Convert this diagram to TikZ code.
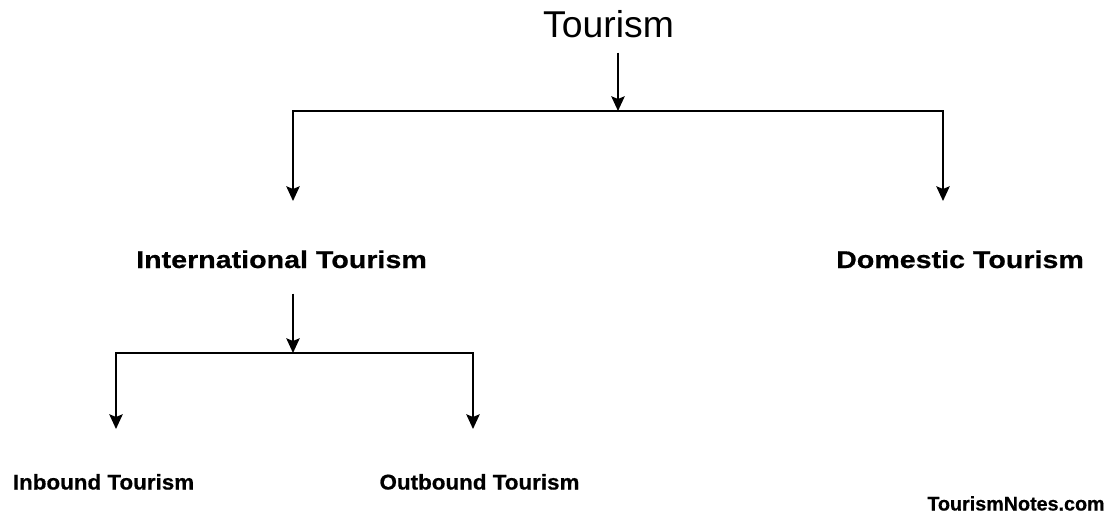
\documentclass[tikz,border=0pt]{standalone}
\usepackage{fontspec}
\usepackage{tikz}
\usepackage{xcolor}
\usetikzlibrary{arrows.meta}
\setmainfont{Liberation Sans}
\newfontfamily\widebold[FakeStretch=1.18,FakeBold=0.6]{Liberation Sans Bold}
\newfontfamily\leafbold[FakeStretch=1.05,FakeBold=0.6]{Liberation Sans Bold}
\newfontfamily\sitebold[FakeBold=0.6]{Liberation Sans Bold}

\tikzset{
  arr/.style={line width=1.6pt, -{Stealth[length=11pt,width=10pt,inset=2pt]}},
  bar/.style={line width=1.6pt},
  head/.style={anchor=base, inner sep=0.75pt, font=\fontsize{28}{30}\selectfont},
  branch/.style={anchor=base, inner sep=0.75pt, font=\widebold\fontsize{18.2}{20}\selectfont},
  leaf/.style={anchor=base, inner sep=0.75pt, font=\leafbold\fontsize{16}{18}\selectfont},
}

\begin{document}
\begin{tikzpicture}[x=0.75pt,y=0.75pt,yscale=-1,xscale=1]
\useasboundingbox (0,0) rectangle (1111,514);

% Text Node
\node [head] (tourism) at (608.5,37) {Tourism};
% Text Node
\node [branch] (intl) at (281.5,268) {International Tourism};
% Text Node
\node [branch] (domestic) at (960,268) {Domestic Tourism};
% Text Node
\node [leaf] (inbound) at (103.5,489.5) {Inbound Tourism};
% Text Node
\node [leaf] (outbound) at (479.5,489.5) {Outbound Tourism};
% Text Node
\node [anchor=base, inner sep=0.75pt, font=\sitebold\fontsize{14.8}{16}\selectfont] (site) at (1016,510.5) {TourismNotes.com};

% hubs and leg ends
\coordinate (hubA) at (618,111);
\coordinate (legL) at (293,201);
\coordinate (legR) at (943,201);
\coordinate (hubB) at (293,353);
\coordinate (legIn) at (116,429);
\coordinate (legOut) at (473,429);

%Straight Lines
\draw [arr, shorten <=10.5pt] (tourism.south -| hubA) -- (hubA);
\draw [bar] (legL |- hubA) -- (legR |- hubA);
\draw [arr] (hubA) -| (legL);
\draw [arr] (hubA) -| (legR);

%Straight Lines
\draw [arr, shorten <=18pt] (intl.south -| hubB) -- (hubB);
\draw [bar] (legIn |- hubB) -- (legOut |- hubB);
\draw [arr] (hubB) -| (legIn);
\draw [arr] (hubB) -| (legOut);

\end{tikzpicture}
\end{document}
